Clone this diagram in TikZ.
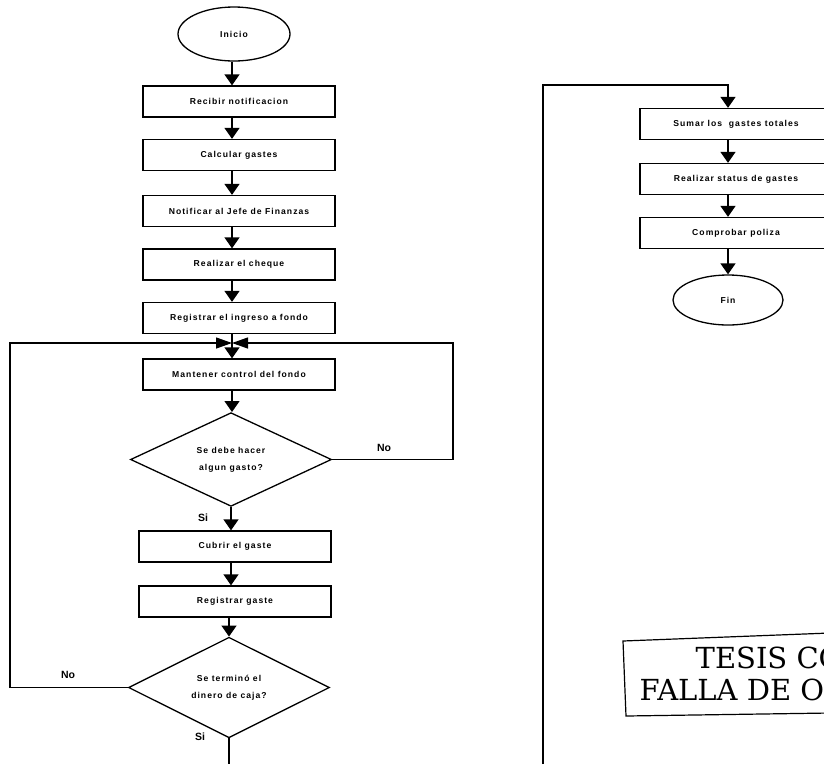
\documentclass[tikz,border=0pt]{standalone}
\usepackage{fontspec}
\setmainfont{Liberation Sans}
\newfontfamily\lblfont[LetterSpace=12]{Liberation Sans}
\newfontfamily\stampfont{DejaVu Serif}
\usetikzlibrary{arrows.meta,shapes.geometric}
\begin{document}
\begin{tikzpicture}[x=1pt,y=-1pt,
  line width=1.3pt,
  every node/.style={font=\lblfont\bfseries\fontsize{8.6}{10}\selectfont},
  proc/.style={draw, rectangle, minimum width=192pt, minimum height=31pt, inner sep=0pt},
  term/.style={draw, ellipse, minimum width=112pt, minimum height=54pt, inner sep=0pt},
  decis/.style={draw, diamond, minimum width=201pt, minimum height=93pt, inner sep=0pt, align=center},
  flow/.style={-{Triangle[length=11pt,width=15pt]}},
  meet/.style={-{Triangle[length=16pt,width=11pt]}},
  answer/.style={font=\fontsize{10.5}{12}\selectfont\bfseries, inner sep=0pt},
  stamp/.style={font=\stampfont\fontsize{29}{32}\selectfont, inner sep=0pt, anchor=base west}
]
\useasboundingbox (0,0) rectangle (824,764);

% ---- left column ----
\coordinate (axis) at (232,0);
\node[term] (inicio) at (234,34) {Inicio};
\node[proc] (b1) at (239,101.5) {Recibir notificacion};
\node[proc] (b2) at (239,155) {Calcular gastes};
\node[proc] (b3) at (239,211) {Notificar al Jefe de Finanzas};
\node[proc] (b4) at (239,264.5) {Realizar el cheque};
\node[proc] (b5) at (239,318) {Registrar el ingreso a fondo};
\coordinate (j) at (232,343);
\node[proc] (b6) at (239,374.5) {Mantener control del fondo};
\node[decis] (d1) at (231,459.5) {Se debe hacer\\[7pt]algun gasto?};
\node[proc] (b7) at (235,546.5) {Cubrir el gaste};
\node[proc] (b8) at (235,601.5) {Registrar gaste};
\node[decis] (d2) at (229,687.5) {Se terminó el\\[7pt]dinero de caja?};

\coordinate (rr) at (453,343);
\coordinate (ll) at (10,343);
\coordinate (exitL) at (229,764);

\draw[flow] (inicio.south -| axis) -- (b1.north -| axis);
\draw[flow] (b1.south -| axis) -- (b2.north -| axis);
\draw[flow] (b2.south -| axis) -- (b3.north -| axis);
\draw[flow] (b3.south -| axis) -- (b4.north -| axis);
\draw[flow] (b4.south -| axis) -- (b5.north -| axis);
\draw[flow] (b5.south -| axis) -- (b6.north -| axis);
\draw[flow] (b6.south -| axis) -- (d1.north -| axis);
\draw[flow] (d1.south) -- (b7.north -| d1.south);
\draw[flow] (b7.south -| d1.south) -- (b8.north -| d1.south);
\draw[flow] (b8.south -| d2.north) -- (d2.north);
\draw (d2.south) -- (exitL);

% loop-backs joining above the control box
\draw[meet] (d1.east) -| (rr) -- (j);
\draw[meet] (d2.west) -| (ll) -- (j);

\node[answer] (no1) at (384,448) {No};
\node[answer] (si1) at (203,518) {Si};
\node[answer] (no2) at (68,675) {No};
\node[answer] (si2) at (200,737) {Si};

% ---- right column ----
\coordinate (exitR) at (543,764);
\coordinate (rt) at (728,85);
\node[proc] (s1) at (736,124) {Sumar los\ \ gastes totales};
\node[proc] (s2) at (736,179) {Realizar status de gastes};
\node[proc] (s3) at (736,233) {Comprobar poliza};
\node[term, minimum width=110pt, minimum height=50pt] (fin) at (728,300) {Fin};

\draw[flow] (exitR) |- (rt) -- (s1.north -| rt);
\draw[flow] (s1.south -| rt) -- (s2.north -| rt);
\draw[flow] (s2.south -| rt) -- (s3.north -| rt);
\draw[flow] (s3.south -| rt) -- (fin.north);

% ---- stamp ----
\draw[line width=1.2pt] (830,633) -- (623,641) -- (626,716) -- (830,713);
\node[stamp] (stamp1) at (695,668) {TESIS CON};
\node[stamp] (stamp2) at (639,700) {FALLA DE ORIGEN};
\end{tikzpicture}
\end{document}
